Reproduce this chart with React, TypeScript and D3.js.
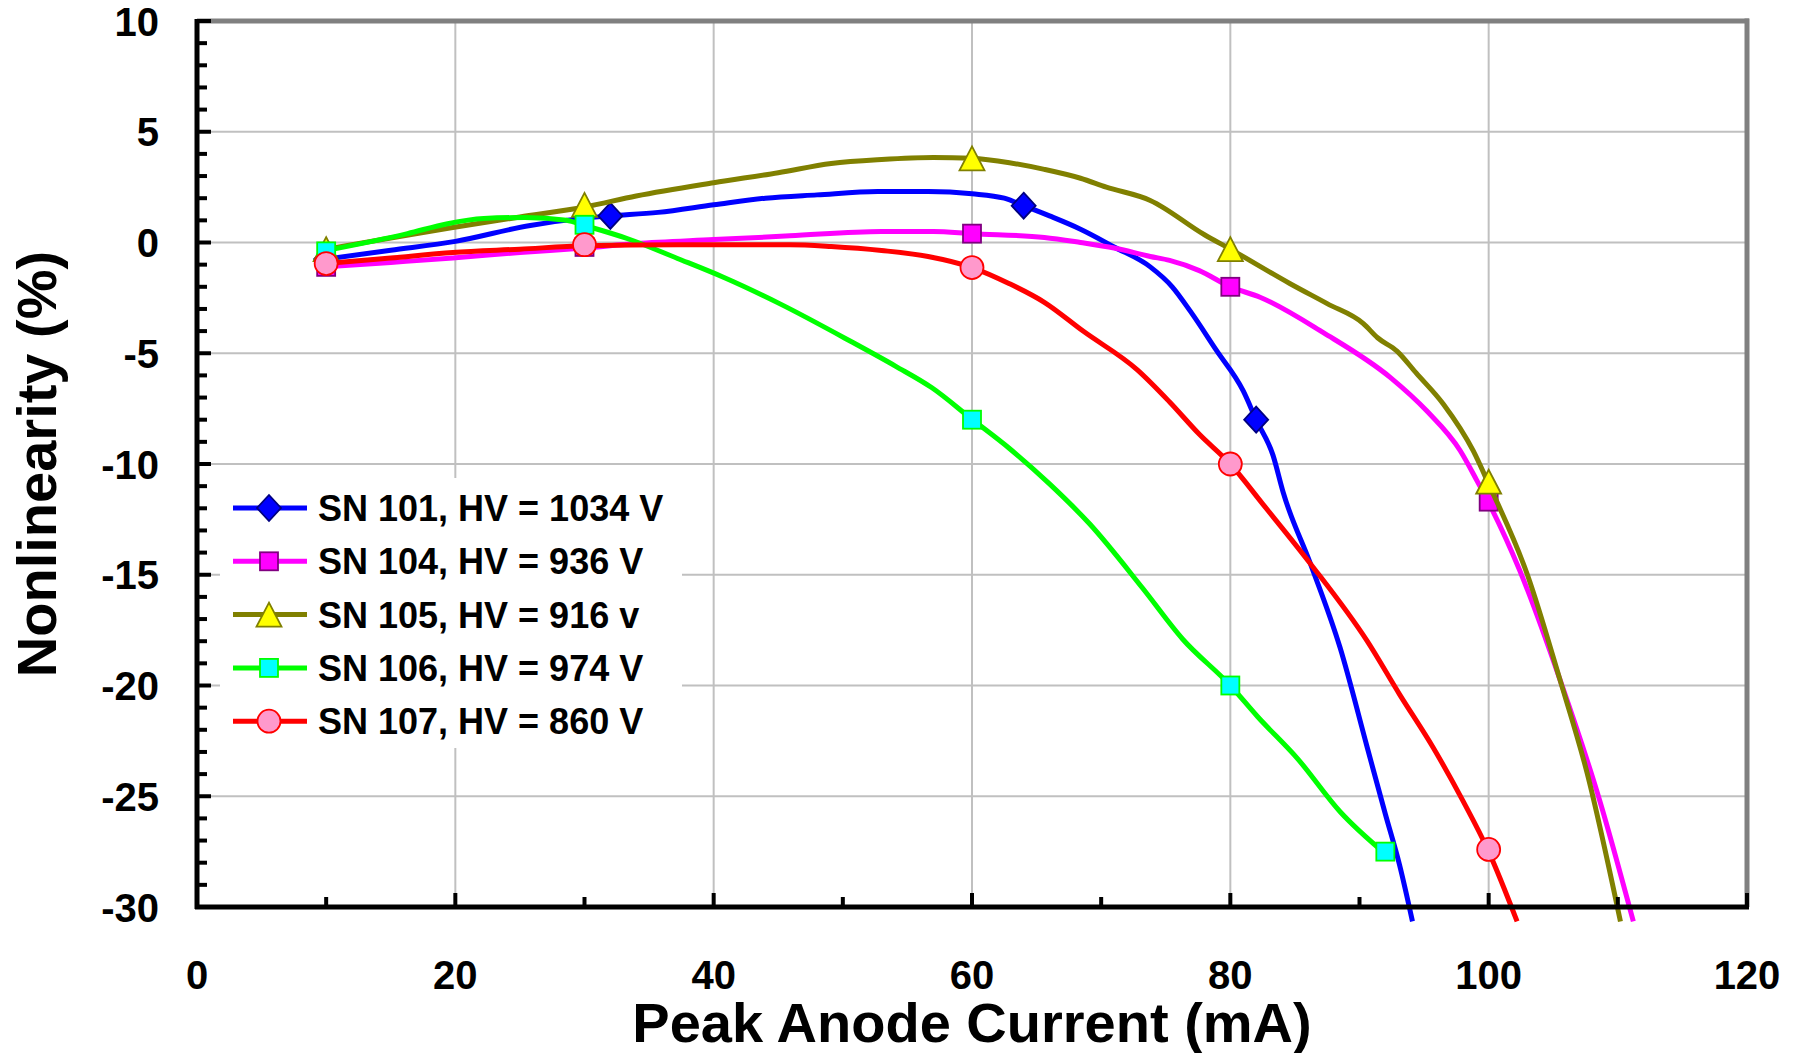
import React from 'react';
import * as d3 from 'd3';

const W = 1798;
const H = 1053;

const xTickValues = [0, 20, 40, 60, 80, 100, 120];
const xMinorValues = [10, 30, 50, 70, 90, 110];
const yTickValues = [10, 5, 0, -5, -10, -15, -20, -25, -30];

const seriesNames = [
  'SN 101, HV = 1034 V',
  'SN 104, HV = 936 V',
  'SN 105, HV = 916 v',
  'SN 106, HV = 974 V',
  'SN 107, HV = 860 V',
];

type P = [number, number];

const sn101Line: P[] = [
  [10, -0.75], [15, -0.35], [20, 0.05], [25.8, 0.77], [30, 1.1], [32, 1.2], [35.7, 1.36], [40, 1.7],
  [44, 2.0], [48, 2.15], [52.7, 2.3], [56.6, 2.3], [60, 2.2], [62.5, 2.0], [64, 1.66], [66, 1.2],
  [68.4, 0.6], [71, -0.2], [73.8, -1.1], [75.5, -2.0], [76.9, -3.1], [78.9, -4.85], [81, -6.7], [82, -8.0],
  [83.3, -9.6], [84.1, -11.3], [86.2, -14.5], [88.5, -18.3], [90.6, -22.8], [92, -25.8], [93.1, -28.1],
  [94.1, -30.65],
];
const sn101Marks: P[] = [[10, -0.75], [32, 1.2], [64, 1.66], [82, -8.0]];

const sn104Line: P[] = [
  [10, -1.1], [15, -0.9], [19.8, -0.7], [25, -0.45], [30, -0.25], [34, -0.05], [40, 0.13], [45.9, 0.3],
  [53, 0.5], [57, 0.5], [60, 0.4], [65.6, 0.23], [68.4, 0.0], [71, -0.25], [73.8, -0.63], [75.3, -0.81],
  [77.6, -1.27], [80, -2.0], [82.3, -2.47], [87.2, -4.07], [92.4, -6.1], [95.2, -7.6], [97.8, -9.4],
  [99.1, -10.76], [100, -11.75], [102.4, -14.8], [105.5, -19.7], [108.6, -25.2], [111.2, -30.65],
];
const sn104Marks: P[] = [[10, -1.1], [30, -0.2], [60, 0.4], [80, -2.0], [100, -11.7]];

const sn105Line: P[] = [
  [10, -0.3], [15, 0.2], [19.8, 0.68], [25, 1.15], [30, 1.6], [34, 2.1], [40, 2.7], [45, 3.15],
  [49.1, 3.57], [53, 3.75], [57, 3.84], [60, 3.8], [62.9, 3.6], [65.6, 3.3], [68.4, 2.9], [70.4, 2.5],
  [73.8, 1.9], [78, 0.35], [80, -0.3], [84.6, -1.85], [87.5, -2.76], [90.3, -3.66], [91.4, -4.3],
  [92.9, -4.9], [94.4, -5.9], [96.5, -7.3], [98.8, -9.4], [100, -10.9], [103, -15.0], [105.5, -19.7],
  [107.6, -23.9], [110.2, -30.65],
];
const sn105Marks: P[] = [[10, -0.3], [30, 1.7], [60, 3.8], [80, -0.3], [100, -10.8]];

const sn106Line: P[] = [
  [10, -0.36], [16.3, 0.4], [19.4, 0.85], [22.2, 1.08], [25.4, 1.13], [28.6, 1.0], [30, 0.77],
  [33.3, 0.18], [37.2, -0.72], [40.8, -1.58], [45.1, -2.76], [50.6, -4.46], [54.1, -5.59], [56.9, -6.56],
  [60, -7.98], [62.9, -9.3], [66, -10.9], [69.1, -12.7], [73.2, -15.6], [76.3, -17.9], [80, -20.0],
  [82.1, -21.4], [85.2, -23.3], [88.5, -25.7], [92, -27.6],
];
const sn106Marks: P[] = [[10, -0.4], [30, 0.8], [60, -8.0], [80, -20.0], [92, -27.5]];

const sn107Line: P[] = [
  [10, -0.95], [15, -0.7], [19.8, -0.45], [25, -0.3], [30, -0.15], [37.2, -0.1], [45.9, -0.1],
  [49.1, -0.18], [53, -0.36], [56.6, -0.63], [60, -1.13], [62.9, -1.86], [65.6, -2.7], [68.6, -4.0],
  [72.8, -5.75], [75.3, -7.2], [77.6, -8.66], [80, -10.0], [82.5, -11.8], [86.2, -14.5], [90.6, -18.0],
  [93.1, -20.4], [95.7, -22.8], [98, -25.2], [100, -27.5], [102.2, -30.65],
];
const sn107Marks: P[] = [[10, -0.95], [30, -0.1], [60, -1.13], [80, -10.0], [100, -27.4]];

type MarkerKind = 'diamond' | 'square' | 'triangle' | 'circle';

const seriesStyles: { color: string; fill: string; stroke: string; kind: MarkerKind }[] = [
  { color: '#0000ff', fill: '#0000ff', stroke: '#000080', kind: 'diamond' },
  { color: '#ff00ff', fill: '#ff00ff', stroke: '#800080', kind: 'square' },
  { color: '#808000', fill: '#ffff00', stroke: '#808000', kind: 'triangle' },
  { color: '#00ff00', fill: '#00ffff', stroke: '#00ff00', kind: 'square' },
  { color: '#ff0000', fill: '#ff99cc', stroke: '#ff0000', kind: 'circle' },
];

const seriesLines = [sn101Line, sn104Line, sn105Line, sn106Line, sn107Line];
const seriesMarks = [sn101Marks, sn104Marks, sn105Marks, sn106Marks, sn107Marks];

const FONT = '"Liberation Sans", Arial, Helvetica, sans-serif';

function Marker({ kind, cx, cy, fill, stroke }: { kind: MarkerKind; cx: number; cy: number; fill: string; stroke: string }) {
  const sw = 1.8;
  if (kind === 'diamond') {
    const hw = 12, hh = 13;
    return (
      <polygon
        points={`${cx},${cy - hh} ${cx + hw},${cy} ${cx},${cy + hh} ${cx - hw},${cy}`}
        fill={fill}
        stroke={stroke}
        strokeWidth={sw}
      />
    );
  }
  if (kind === 'square') {
    const s = 18;
    return <rect x={cx - s / 2} y={cy - s / 2} width={s} height={s} fill={fill} stroke={stroke} strokeWidth={sw} />;
  }
  if (kind === 'triangle') {
    const hw = 12.5, hh = 12;
    return (
      <polygon
        points={`${cx},${cy - hh} ${cx + hw},${cy + hh} ${cx - hw},${cy + hh}`}
        fill={fill}
        stroke={stroke}
        strokeWidth={sw}
        strokeLinejoin="miter"
      />
    );
  }
  return <ellipse cx={cx} cy={cy} rx={11.5} ry={11.5} fill={fill} stroke={stroke} strokeWidth={sw} />;
}

export default function App() {
  const left = 197;
  const right = 1747;
  const top = 21;
  const bottom = 907;

  const x = d3.scaleLinear().domain([0, 120]).range([left, right]);
  const y = d3.scaleLinear().domain([-30, 10]).range([bottom, top]);

  const line = d3
    .line<P>()
    .x((d) => x(d[0]))
    .y((d) => y(d[1]))
    .curve(d3.curveMonotoneX);

  const yMinor = d3.range(-30, 11, 1).filter((v) => v % 5 !== 0);

  const legendX0 = 233;
  const legendX1 = 307;
  const legendMarkX = 269;
  const legendTextX = 318;
  const legendY0 = 508;
  const legendDy = 53.3;

  return (
    <svg
      width={W}
      height={H}
      style={{ position: 'absolute', left: 0, top: 0, background: '#ffffff' }}
      fontFamily={FONT}
    >
      <rect x={0} y={0} width={W} height={H} fill="#ffffff" />

      {/* gridlines */}
      {yTickValues
        .filter((v) => v !== 10 && v !== -30)
        .map((v) => (
          <line key={`gy${v}`} x1={left} x2={right} y1={y(v)} y2={y(v)} stroke="#c0c0c0" strokeWidth={2} />
        ))}
      {xTickValues
        .filter((v) => v !== 0 && v !== 120)
        .map((v) => (
          <line key={`gx${v}`} x1={x(v)} x2={x(v)} y1={top} y2={bottom} stroke="#c0c0c0" strokeWidth={2} />
        ))}

      {/* top and right border */}
      <line x1={left} x2={right + 2} y1={top} y2={top} stroke="#808080" strokeWidth={5} />
      <line x1={right} x2={right} y1={top - 2.5} y2={bottom} stroke="#808080" strokeWidth={5} />

      {/* series */}
      {seriesLines.map((pts, i) => (
        <g key={`s${i}`}>
          <path d={line(pts) || ''} fill="none" stroke={seriesStyles[i].color} strokeWidth={5} strokeLinejoin="round" />
          {seriesMarks[i].map((m, j) => (
            <Marker
              key={`m${i}-${j}`}
              kind={seriesStyles[i].kind}
              cx={x(m[0])}
              cy={y(m[1])}
              fill={seriesStyles[i].fill}
              stroke={seriesStyles[i].stroke}
            />
          ))}
        </g>
      ))}

      {/* axes */}
      <line x1={left} x2={left} y1={top - 2} y2={bottom + 2} stroke="#000" strokeWidth={5} />
      <line x1={left - 2} x2={right + 2} y1={bottom} y2={bottom} stroke="#000" strokeWidth={5} />
      {yTickValues.map((v) => (
        <line key={`ty${v}`} x1={left} x2={left + 14} y1={y(v)} y2={y(v)} stroke="#000" strokeWidth={4} />
      ))}
      {yMinor.map((v) => (
        <line key={`tym${v}`} x1={left} x2={left + 10} y1={y(v)} y2={y(v)} stroke="#000" strokeWidth={4} />
      ))}
      {xTickValues.map((v) => (
        <line key={`tx${v}`} x1={x(v)} x2={x(v)} y1={bottom} y2={bottom - 14} stroke="#000" strokeWidth={4} />
      ))}
      {xMinorValues.map((v) => (
        <line key={`txm${v}`} x1={x(v)} x2={x(v)} y1={bottom} y2={bottom - 10} stroke="#000" strokeWidth={4} />
      ))}

      {/* tick labels */}
      {yTickValues.map((v) => (
        <text
          key={`ly${v}`}
          x={159}
          y={y(v) + 14.5}
          textAnchor="end"
          fontSize={40}
          fontWeight="bold"
          fill="#000"
        >
          {v}
        </text>
      ))}
      {xTickValues.map((v) => (
        <text key={`lx${v}`} x={x(v)} y={989} textAnchor="middle" fontSize={40} fontWeight="bold" fill="#000">
          {v}
        </text>
      ))}

      {/* axis titles */}
      <text x={(left + right) / 2} y={1042} textAnchor="middle" fontSize={56} fontWeight="bold" fill="#000">
        Peak Anode Current (mA)
      </text>
      <text
        transform={`translate(56, ${(top + bottom) / 2}) rotate(-90)`}
        textAnchor="middle"
        fontSize={56}
        fontWeight="bold"
        fill="#000"
      >
        Nonlinearity (%)
      </text>

      {/* legend */}
      <rect x={220} y={478} width={462} height={270} fill="#ffffff" />
      {seriesNames.map((name, i) => {
        const cy = legendY0 + i * legendDy;
        const st = seriesStyles[i];
        return (
          <g key={`lg${i}`}>
            <line x1={legendX0} x2={legendX1} y1={cy} y2={cy} stroke={st.color} strokeWidth={5} />
            <Marker kind={st.kind} cx={legendMarkX} cy={cy} fill={st.fill} stroke={st.stroke} />
            <text x={legendTextX} y={cy + 13} fontSize={36} fontWeight="bold" fill="#000">
              {name}
            </text>
          </g>
        );
      })}
    </svg>
  );
}
